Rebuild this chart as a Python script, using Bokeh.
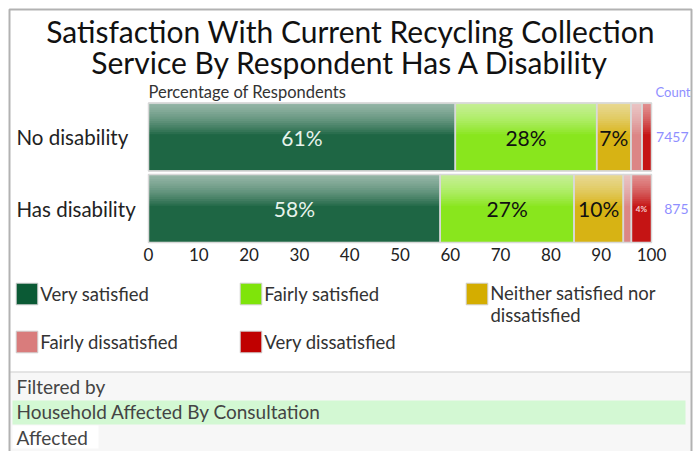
from bokeh.plotting import figure
from bokeh.models import (ColumnDataSource, Range1d, Label, BoxAnnotation, Legend, LegendItem)
from bokeh.transform import dodge
from bokeh.core.properties import value
from bokeh.embed import file_html
from bokeh.resources import INLINE

# ---------------- data ----------------
groups = ["No disability", "Has disability"]
responses = ["Very satisfied", "Fairly satisfied", "Neither satisfied nor dissatisfied",
             "Fairly dissatisfied", "Very dissatisfied"]
no_disability = [61.0, 28.1, 6.8, 2.2, 1.9]
has_disability = [58.0, 26.6, 9.8, 1.6, 4.0]
counts = [7457, 875]
x_ticks = [0, 10, 20, 30, 40, 50, 60, 70, 80, 90, 100]
title_lines = ["Satisfaction With Current Recycling Collection",
               "Service By Respondent Has A Disability"]
filter_lines = ["Filtered by", "Household Affected By Consultation", "Affected"]
legend_lines = [["Very satisfied"], ["Fairly satisfied"], ["Neither satisfied nor", "dissatisfied"],
                ["Fairly dissatisfied"], ["Very dissatisfied"]]

# ---------------- styles / layout ----------------
colors = ["#0b5a35", "#7fe40a", "#d4ad00", "#d97c7c", "#c00000"]
label_colors = ["#e8f3ec", "#111111", "#111111", "#111111", "#f4d0d0"]
FONT = "Lato"
W, H = 697, 451
PX0, PX100 = 148, 651          # page x of value 0 and 100
ROW0, PITCH = 136.5, 71.5      # page y of first row centre, row pitch
BAR_H = 0.95
LEG_FS = "18.5px"

series = [no_disability, has_disability]
ppu = (PX100 - PX0) / 100.0

p = figure(frame_width=W, frame_height=H, min_border=0,
           x_range=Range1d(-PX0 / ppu, (W - PX0) / ppu),
           y_range=Range1d((H - ROW0) / PITCH, -ROW0 / PITCH),
           x_axis_location=None, y_axis_location=None,
           output_backend="svg", toolbar_location=None,
           background_fill_color="white", border_fill_color="white",
           outline_line_color=None)
p.extra_x_ranges = {"px": Range1d(0, W)}
p.extra_y_ranges = {"py": Range1d(H, 0)}
p.grid.visible = False

# ---- stacked segments
seg = dict(row=[], left=[], right=[], mid=[], val=[], txt=[], tcol=[])
renderers = []
for k, resp in enumerate(responses):
    src = dict(row=[], left=[], right=[])
    for gi, g in enumerate(groups):
        left = sum(series[gi][:k])
        right = left + series[gi][k]
        src["row"].append(gi); src["left"].append(left); src["right"].append(right)
        seg["row"].append(gi); seg["left"].append(left); seg["right"].append(right)
        seg["mid"].append((left + right) / 2); seg["val"].append(series[gi][k])
        seg["txt"].append(f"{round(series[gi][k])}%"); seg["tcol"].append(label_colors[k])
    r = p.hbar(y="row", left="left", right="right", height=BAR_H, source=ColumnDataSource(src),
               fill_color=colors[k], line_color="#d0d0d0", line_width=1)
    renderers.append(r)

seg_src = ColumnDataSource(seg)
p.hbar(y="row", left="left", right="right", height=BAR_H, source=seg_src,
       fill_color="white", fill_alpha=0.08, line_color=None)
# gradient on the upper part of each bar (overlapping translucent strips)
N = 14
depth_total = BAR_H * 0.46
a = 1 - 0.45 ** (1.0 / N)
for j in range(N):
    d = depth_total * (j + 1) / N
    off = -(BAR_H / 2 - d / 2)
    p.hbar(y=dodge("row", off), left="left", right="right", height=d,
           source=seg_src, fill_color="white", fill_alpha=a, line_color=None)
p.hbar(y="row", left="left", right="right", height=BAR_H, source=seg_src,
       fill_color=None, line_color="#d8d8d8", line_width=1.5)

# ---- value labels
big = {c: [] for c in ["row", "mid", "txt", "tcol"]}
small = {c: [] for c in ["row", "mid", "txt", "tcol"]}
for i in range(len(seg["row"])):
    tgt = big if seg["val"][i] >= 5 else (small if seg["val"][i] >= 3 else None)
    if tgt is None:
        continue
    for c in tgt:
        tgt[c].append(seg[c][i])
p.text(x="mid", y="row", text="txt", text_color="tcol", source=ColumnDataSource(big),
       text_align="center", text_baseline="middle", text_font=value(FONT), text_font_size="21px")
p.text(x="mid", y="row", text="txt", text_color="tcol", source=ColumnDataSource(small),
       text_align="center", text_baseline="middle", text_font=value(FONT), text_font_size="8px",
       text_font_style="bold")

# ---- x tick labels (through the value scale)
p.text(x=x_ticks, y=[254] * len(x_ticks), y_range_name="py", text=[str(t) for t in x_ticks],
       text_align="center", text_baseline="middle", text_font=value(FONT),
       text_font_size="17px", text_color="#222222")

# ---- panels / frame
def box(l, r, t, b, **kw):
    return BoxAnnotation(left=l, right=r, top=t, bottom=b, x_range_name="px", y_range_name="py",
                         **kw)

p.add_layout(box(10, 690, 372, 470, fill_color="#f7f7f7", fill_alpha=1, line_color=None))
p.add_layout(box(10, 690, 371, 372, fill_color="#cccccc", fill_alpha=1, line_color=None))
p.add_layout(box(12, 685, 400, 424, fill_color="#d3f8d3", fill_alpha=1, line_color=None))
p.add_layout(box(12, 98, 425, 448, fill_color="white", fill_alpha=1, line_color=None))
p.add_layout(box(9, 691, 9, 470, fill_alpha=0, line_color="black", line_width=2))

def lab(x, y, text, size, color, align="left", px=True):
    kw = dict(x_range_name="px")
    if px:
        kw["y_range_name"] = "py"
    return Label(x=x, y=y, text=text, text_align=align, text_baseline="middle",
                 text_font=FONT, text_font_size=size, text_color=color, **kw)

for line, yy in zip(title_lines, [30, 61]):
    p.add_layout(lab(350, yy, line, "30px", "#111111", "center"))
p.add_layout(lab(148, 91, "Percentage of Respondents", "16.5px", "#333333"))
p.add_layout(lab(690, 91, "Count", "13px", "#8f8fff", "right"))
for gi, (g, c) in enumerate(zip(groups, counts)):
    p.add_layout(lab(16, gi, g, "20.5px", "#222222", px=False))
    p.add_layout(lab(688, gi, str(c), "14px", "#8f8fff", "right", px=False))
for t, yy in zip(filter_lines, [386, 411, 437]):
    p.add_layout(lab(16, yy, t, "19px", "#444444"))

# ---- legends (three columns)
GW = 27.5
SP = 21
leg_kw = dict(orientation="vertical", glyph_width=int(GW), glyph_height=int(GW), label_standoff=0,
              spacing=SP, padding=0, margin=0, border_line_alpha=0, background_fill_alpha=0,
              label_text_font=FONT, label_text_font_size=LEG_FS, label_text_color="#333333",
              label_height=int(GW))
cols = [[0, 3], [1, 4], [2]]
col_x = [16, 240, 466]
for idxs, cx in zip(cols, col_x):
    items = [LegendItem(label=legend_lines[k][0], renderers=[renderers[k]]) for k in idxs]
    n = len(idxs)
    bottom_page = 282 - 2.75 + n * GW + (n - 1) * SP
    leg = Legend(items=items, location=(cx - 2.75, H - bottom_page), **leg_kw)
    p.add_layout(leg)
    for k in idxs:
        for li, extra in enumerate(legend_lines[k][1:], start=1):
            p.add_layout(lab(cx + 24, 293 + 21 * li, extra, LEG_FS, "#333333"))

open("out.html", "w").write(file_html(p, INLINE))
